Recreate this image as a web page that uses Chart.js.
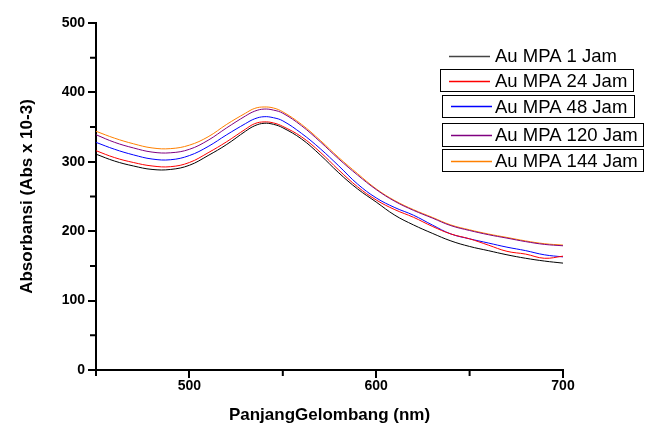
<!DOCTYPE html>
<html>
<head>
<meta charset="utf-8">
<script src="https://cdn.jsdelivr.net/npm/chart.js@4/dist/chart.umd.min.js"></script>
<style>
  html, body { margin: 0; padding: 0; background: #fff; }
  #wrap { width: 652px; height: 426px; position: relative; }
</style>
</head>
<body>
<div id="wrap"><canvas id="c" width="652" height="426"></canvas></div>
<script>
const wavelengths = [450,460,470,480,490,500,510,520,530,535,540,545,550,560,570,580,590,600,610,620,630,640,650,660,670,680,690,700];
const seriesNames = ['Au MPA 1 Jam','Au MPA 24 Jam','Au MPA 48 Jam','Au MPA 120 Jam','Au MPA 144 Jam'];
const jam1   = [311,301,294,289,289,295,309,325,344,352,355.5,354,349,333,310,284,261,242,223,209,197,186,178,172,166,161,157,154];
const jam24  = [316,306,299,294,293,299,313,329,347,355,357.5,356,351,336,314,288,264,245,231,220,207,196,189,180,171,167,161,164];
const jam48  = [328,318,310,304,303,309,322,339,355,362,365,363.5,359,341,319,294,268,248,234,223,209,196,189,183,177,172,166,163];
const jam120 = [339,328,320,314,313,318,331,349,366,373,376,374.5,370,352,329,304,281,260,243,230,219,208,201,195,190,185,181,179];
const jam144 = [344,334,326,320,319,324,336,354,370,377,379,377.5,372,354,331,306,283,261,244,231,220,209,202,196,191,186,182,180];
const yTicks = [0,100,200,300,400,500];
const xTicks = [500,600,700];

const colors = ['#000000','#ff0000','#0000ff','#800080','#ff8000'];
const allSeries = [jam1, jam24, jam48, jam120, jam144];

const datasets = allSeries.map((s, i) => ({
  label: seriesNames[i],
  data: s.map((v, j) => ({x: wavelengths[j], y: v})),
  borderColor: colors[i],
  borderWidth: 1,
  pointRadius: 0,
  fill: false,
  tension: 0.4
}));

const FONT = '"Liberation Sans", Arial, Helvetica, sans-serif';

// custom legend mimicking the original (boxed items)
const legendLayout = [
  {box: null,                 lx: 449, ly: 56,  cy: 55.5},
  {box: [440, 69, 193, 22],   lx: 449, ly: 81,  cy: 81},
  {box: [442, 95, 192, 22],   lx: 451, ly: 106, cy: 106.5},
  {box: [442, 123, 201, 23],  lx: 451, ly: 135, cy: 135},
  {box: [442, 149, 201, 22],  lx: 451, ly: 161, cy: 160.5}
];
const legendPlugin = {
  id: 'boxLegend',
  afterDraw(chart) {
    const ctx = chart.ctx;
    chart.data.datasets.forEach((ds, i) => {
      const L = legendLayout[i];
      ctx.save();
      if (L.box) {
        ctx.strokeStyle = '#000';
        ctx.lineWidth = 1;
        ctx.strokeRect(L.box[0] + 0.5, L.box[1] + 0.5, L.box[2], L.box[3]);
      }
      ctx.beginPath();
      ctx.strokeStyle = i === 0 ? '#444' : colors[i];
      ctx.lineWidth = 1.5;
      ctx.moveTo(L.lx, L.ly + 0.5);
      ctx.lineTo(L.lx + 41, L.ly + 0.5);
      ctx.stroke();
      ctx.fillStyle = '#000';
      ctx.font = '18.5px ' + FONT;
      ctx.textBaseline = 'middle';
      ctx.textAlign = 'left';
      ctx.fillText(ds.label, 495, L.cy + 1);
      ctx.restore();
    });
  }
};

// minor ticks (shorter) drawn via plugin
const minorTickPlugin = {
  id: 'minorTicks',
  afterDraw(chart) {
    const ctx = chart.ctx;
    const xs = chart.scales.x, ys = chart.scales.y;
    ctx.save();
    ctx.strokeStyle = '#000';
    ctx.lineWidth = 2;
    ctx.beginPath();
    for (let v = 50; v < 500; v += 100) {
      const py = ys.getPixelForValue(v);
      ctx.moveTo(ys.right - 6, py);
      ctx.lineTo(ys.right, py);
    }
    for (let v = 450; v <= 700; v += 100) {
      const px = xs.getPixelForValue(v);
      ctx.moveTo(px, xs.top);
      ctx.lineTo(px, xs.top + 6);
    }
    ctx.stroke();
    ctx.restore();
  }
};

new Chart(document.getElementById('c'), {
  type: 'line',
  data: { datasets },
  plugins: [legendPlugin, minorTickPlugin],
  options: {
    responsive: false,
    animation: false,
    layout: { padding: { left: 17, right: 89, top: 23, bottom: 0 } },
    plugins: { legend: { display: false }, tooltip: { enabled: false } },
    scales: {
      x: {
        type: 'linear',
        min: 450, max: 700,
        afterFit(s) { s.height = 56; },
        afterBuildTicks(s) { s.ticks = xTicks.map(v => ({value: v})); },
        ticks: { color: '#000', font: { family: FONT, size: 14, weight: 'bold' }, padding: 0, maxRotation: 0 },
        grid: { drawOnChartArea: false, drawTicks: true, tickLength: 8, color: '#000', lineWidth: 2 },
        border: { display: true, color: '#000', width: 2 },
        title: { display: true, text: 'PanjangGelombang (nm)', color: '#000', font: { family: FONT, size: 17, weight: 'bold' }, padding: { top: 4, bottom: 0 } }
      },
      y: {
        type: 'linear',
        min: 0, max: 500,
        afterFit(s) { s.width = 79; },
        afterBuildTicks(s) { s.ticks = yTicks.map(v => ({value: v})); },
        ticks: { color: '#000', font: { family: FONT, size: 14, weight: 'bold' }, padding: 3 },
        grid: { drawOnChartArea: false, drawTicks: true, tickLength: 8, color: '#000', lineWidth: 2 },
        border: { display: true, color: '#000', width: 2 },
        title: { display: true, text: 'Absorbansi (Abs x 10-3)', color: '#000', font: { family: FONT, size: 17, weight: 'bold' }, padding: { top: 0, bottom: 0 } }
      }
    }
  }
});
</script>
</body>
</html>
